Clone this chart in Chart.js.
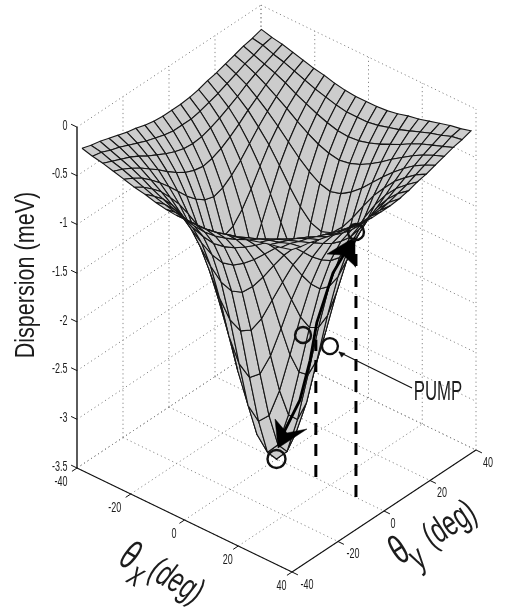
<!DOCTYPE html>
<html>
<head>
<meta charset="utf-8">
<title>Dispersion</title>
<script src="https://cdn.jsdelivr.net/npm/chart.js@4/dist/chart.umd.min.js"></script>
<style>
  html, body { margin: 0; padding: 0; background: #fff; }
  canvas { display: block; }
</style>
</head>
<body>
<canvas id="surface" width="505" height="610"></canvas>
<script>
// Tick values
const thetaTicks = [-40, -20, 0, 20, 40];
const dispersionTicks = [0, -0.5, -1, -1.5, -2, -2.5, -3, -3.5];

// Mesh nodes, in degrees from the centre outwards (the surface is symmetric)
const thetaNodes = [0, 3.9, 7.8, 11.7, 15.6, 19.5, 23.4, 27.3, 31.2, 35.1, 39];

// Dispersion (meV) read at the nodes, one quadrant
const dispersion0 = [-3.5, -3.37, -2.99, -2.48, -1.94, -1.47, -1.12, -0.86, -0.68, -0.54, -0.44];
const dispersion1 = [-3.37, -3.24, -2.88, -2.39, -1.88, -1.43, -1.09, -0.84, -0.67, -0.54, -0.44];
const dispersion2 = [-2.99, -2.88, -2.57, -2.15, -1.71, -1.32, -1.02, -0.8, -0.64, -0.52, -0.43];
const dispersion3 = [-2.48, -2.39, -2.15, -1.82, -1.47, -1.17, -0.93, -0.74, -0.6, -0.49, -0.41];
const dispersion4 = [-1.94, -1.88, -1.71, -1.47, -1.23, -1, -0.82, -0.67, -0.55, -0.46, -0.38];
const dispersion5 = [-1.47, -1.43, -1.32, -1.17, -1, -0.84, -0.71, -0.59, -0.5, -0.42, -0.36];
const dispersion6 = [-1.12, -1.09, -1.02, -0.93, -0.82, -0.71, -0.61, -0.52, -0.44, -0.38, -0.33];
const dispersion7 = [-0.86, -0.84, -0.8, -0.74, -0.67, -0.59, -0.52, -0.45, -0.39, -0.34, -0.3];
const dispersion8 = [-0.68, -0.67, -0.64, -0.6, -0.55, -0.5, -0.44, -0.39, -0.35, -0.31, -0.27];
const dispersion9 = [-0.54, -0.54, -0.52, -0.49, -0.46, -0.42, -0.38, -0.34, -0.31, -0.27, -0.25];
const dispersion10 = [-0.44, -0.44, -0.43, -0.41, -0.38, -0.36, -0.33, -0.3, -0.27, -0.25, -0.22];
const dispersionRows = [dispersion0, dispersion1, dispersion2, dispersion3, dispersion4, dispersion5,
  dispersion6, dispersion7, dispersion8, dispersion9, dispersion10];

// Annotations as [thetaX, thetaY, dispersion]
const pumpDashFar = [[29.4, 0.2, -3.5], [29.4, 0.2, -0.96]];
const pumpDashNear = [[14.3, 0.4, -3.5], [14.3, 0.4, -2.09]];
const circleTop = [29.4, 0.2, -0.78];
const circleLeft = [9.7, 0.2, -2.1];
const circlePump = [19.1, 0.9, -2.1];
const circleBottom = [0, 0, -3.5];
const thickPath = [[1.3, 0, -3.29], [8.7, 0, -2.78], [12.5, 0, -2.32], [15, 0, -1.9], [21, 0, -1.31], [26, 0, -1.01], [29.4, 0, -0.84]];
const headTop = [[23.87, 6.25, -1], [23.36, -5.34, -1], [27.12, -2.78, -1], [33.81, -4.95, -1]];
const headBottom = [[12.56, -14.02, -3], [2.5, -3.57, -3], [9.62, -6.68, -3], [12.63, -1.5, -3]];
const pumpLine = [[53.5, -3.6, -2], [26.1, -3.36, -2]];
const pumpHead = [[26.1, -3.36, -2], [27.85, -2.76, -2], [28.4, -4.87, -2]];

// Box projection onto the chart scales
const view = { cx: 276.5, cy: 459, xx: 2.6875, xy: 2.3, yx: 1.3, yy: -1.525, zz: 97.4 };
function project(tx, ty, d) {
  return {
    x: view.cx + view.xx * tx + view.xy * ty,
    y: view.cy + view.yx * tx + view.yy * ty - view.zz * (d + 3.5)
  };
}
function depth(tx, ty, d) {
  return 2.3 * tx - 2.6875 * ty + 38 * d;
}

const datasets = [];
function addLine(points, color, width, dash) {
  datasets.push({
    data: points.map(p => project(p[0], p[1], p[2])),
    showLine: true, pointRadius: 0, fill: false,
    borderColor: color, borderWidth: width, borderDash: dash || []
  });
}
function addShape(points, fillColor, lineColor, width) {
  const closed = points.concat([points[0]]);
  datasets.push({
    data: closed.map(p => project(p[0], p[1], p[2])),
    showLine: true, pointRadius: 0, fill: 'shape',
    backgroundColor: fillColor, borderColor: lineColor, borderWidth: width
  });
}
function addCircle(p, radius) {
  datasets.push({
    data: [project(p[0], p[1], p[2])],
    showLine: false, pointRadius: radius, pointStyle: 'circle',
    pointBackgroundColor: 'rgba(0,0,0,0)', pointBorderColor: '#111', pointBorderWidth: 2.4
  });
}

// Dotted grid on the floor and the two back walls
const gridColor = '#888';
const gridDash = [1.2, 3];
const zMin = -3.5, zMax = 0;
thetaTicks.forEach(t => {
  addLine([[t, -40, zMin], [t, 40, zMin]], gridColor, 1, gridDash);
  addLine([[-40, t, zMin], [40, t, zMin]], gridColor, 1, gridDash);
  addLine([[t, 40, zMin], [t, 40, zMax]], gridColor, 1, gridDash);
  if (t > -40) addLine([[-40, t, zMin], [-40, t, zMax]], gridColor, 1, gridDash);
});
dispersionTicks.forEach(d => {
  addLine([[-40, -40, d], [-40, 40, d]], gridColor, 1, gridDash);
  addLine([[-40, 40, d], [40, 40, d]], gridColor, 1, gridDash);
});

// Axes and tick marks
addLine([[-40, -40, zMin], [-40, -40, zMax]], '#333', 1.6);
addLine([[-40, -40, zMin], [40, -40, zMin]], '#111', 1.1);
addLine([[40, -40, zMin], [40, 40, zMin]], '#111', 1.1);
thetaTicks.forEach(t => {
  addLine([[t, -40, zMin], [t, -42.2, zMin]], '#111', 1);
  addLine([[40, t, zMin], [42.2, t, zMin]], '#111', 1);
});
dispersionTicks.forEach(d => addLine([[-40, -40, d], [-42.2, -40, d]], '#111', 1));

// Surface quads, far ones first
const signedNodes = thetaNodes.slice(1).reverse().map(t => -t).concat(thetaNodes);
function nodeValue(i, j) {
  return dispersionRows[Math.abs(i - 10)][Math.abs(j - 10)];
}
const quads = [];
for (let i = 0; i < 20; i++) {
  for (let j = 0; j < 20; j++) {
    const corners = [[i, j], [i + 1, j], [i + 1, j + 1], [i, j + 1]]
      .map(c => [signedNodes[c[0]], signedNodes[c[1]], nodeValue(c[0], c[1])]);
    const far = corners.reduce((s, c) => s + depth(c[0], c[1], c[2]), 0);
    quads.push({ corners, far });
  }
}
quads.sort((a, b) => a.far - b.far);
quads.forEach(q => addShape(q.corners, '#cccccc', '#161616', 1.1));

// Pump annotations on top
addLine(pumpDashFar, '#000', 3, [12, 9]);
addLine(pumpDashNear, '#000', 3, [12, 9]);
addLine(thickPath, '#000', 2.8);
addLine(pumpLine, '#111', 1.1);
addShape(pumpHead, '#111', '#111', 0.5);
addShape(headTop, '#000', '#000', 0.5);
addShape(headBottom, '#000', '#000', 0.5);
addCircle(circleTop, 8);
addCircle(circleLeft, 8);
addCircle(circlePump, 8);
addCircle(circleBottom, 9);

// Condensed text helper, the reference type is squeezed sideways
function drawText(ctx, text, x, y, o) {
  ctx.save();
  ctx.translate(x, y);
  ctx.rotate((o.rot || 0) * Math.PI / 180);
  ctx.scale(o.sx || 1, 1);
  ctx.font = (o.italic ? 'italic ' : '') + o.size + 'px "Liberation Sans"';
  ctx.textAlign = o.align || 'center';
  ctx.textBaseline = o.base || 'middle';
  ctx.fillStyle = '#1c1c1c';
  ctx.fillText(text, 0, 0);
  ctx.restore();
}

const labelsPlugin = {
  id: 'labels',
  afterDatasetsDraw(chart) {
    const ctx = chart.ctx;
    const tick = { size: 15, sx: 0.6 };
    dispersionTicks.forEach(d => {
      const p = project(-40, -40, d);
      drawText(ctx, String(d), 67.5, p.y - 1.5, { ...tick, align: 'right' });
    });
    thetaTicks.forEach(t => {
      const px = project(t, -40, zMin);
      const dx = t < 0 ? -16 : -10.5;
      drawText(ctx, String(t), px.x + dx, px.y + 14, tick);
      const py = project(40, t, zMin);
      drawText(ctx, String(t), py.x + (t === 0 ? 9 : t < 0 ? 15 : 12), py.y + 12.5, tick);
    });
    drawText(ctx, 'Dispersion (meV)', 26, 275, { size: 28, sx: 0.77, rot: -90 });
    drawText(ctx, 'PUMP', 438, 392, { size: 28, sx: 0.6 });
    const xTitle = { size: 36, sx: 0.66, rot: 30, italic: true };
    drawText(ctx, 'θ', 129, 557, { ...xTitle, size: 41 });
    drawText(ctx, 'x', 136, 576, xTitle);
    drawText(ctx, '(deg)', 176, 582, xTitle);
    const yTitle = { size: 36, sx: 0.66, rot: -33 };
    drawText(ctx, 'θ', 400, 552, { ...yTitle, size: 41 });
    drawText(ctx, 'y', 418, 559, yTitle);
    drawText(ctx, '(deg)', 450, 525, yTitle);
  }
};

// Chart.js paints the last dataset first, so the list goes in reversed
new Chart(document.getElementById('surface').getContext('2d'), {
  type: 'scatter',
  data: { datasets: datasets.slice().reverse() },
  options: {
    responsive: false,
    animation: false,
    devicePixelRatio: 1,
    events: [],
    layout: { padding: 0, autoPadding: false },
    elements: { line: { tension: 0 } },
    plugins: { legend: { display: false }, tooltip: { enabled: false } },
    scales: {
      x: { type: 'linear', min: 0, max: 505, display: false },
      y: { type: 'linear', min: 0, max: 610, reverse: true, display: false }
    }
  },
  plugins: [labelsPlugin]
});
</script>
</body>
</html>
